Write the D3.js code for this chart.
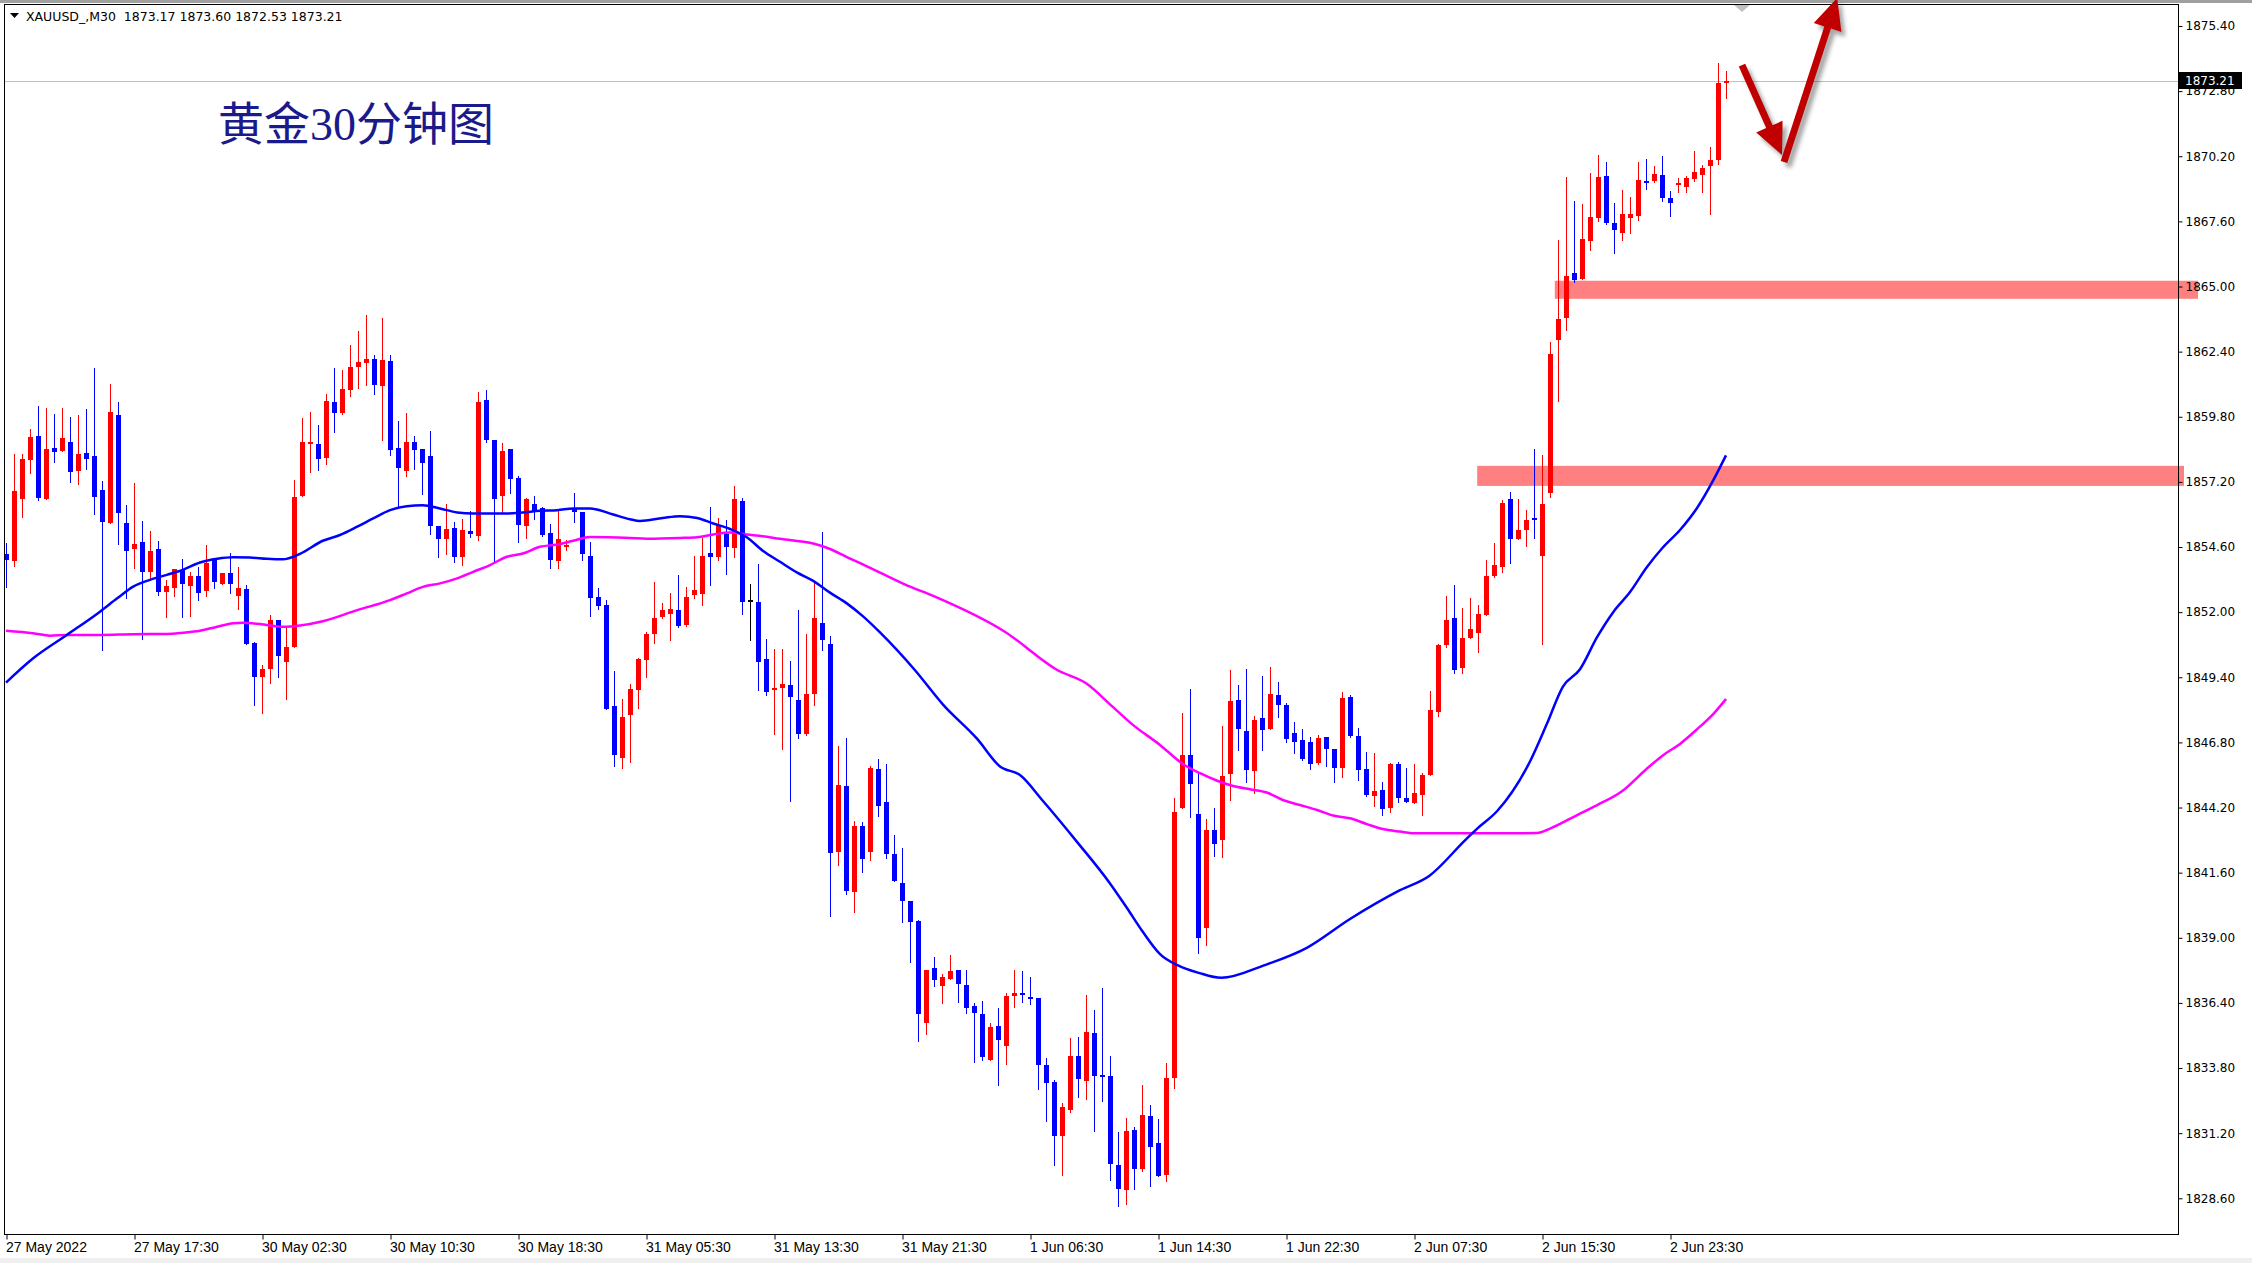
<!DOCTYPE html>
<html>
<head>
<meta charset="utf-8">
<script src="https://d3js.org/d3.v7.min.js"></script>
<title>XAUUSD M30</title>
<style>
  body { margin: 0px; background: #fff; }
</style>
</head>
<body>
<svg width="2252" height="1263"></svg>
<script>
const symbolInfo = 'XAUUSD_,M30  1873.17 1873.60 1872.53 1873.21';
const titleText = '黄金30分钟图';

// OHLC per 30-minute bar, oldest first (bar 0 = 27 May 09:30)
const opens = [1854.32,1854.06,1856.52,1858.09,1859.04,1856.52,1858.56,1858.45,1858.80,1857.65,1858.36,1858.24,1856.88,1855.54,1859.88,1855.56,1854.54,1854.80,1853.62,1854.52,1852.82,1852.98,1853.69,1853.05,1853.45,1852.86,1854.09,1853.14,1853.55,1852.65,1852.93,1850.77,1849.43,1849.75,1851.69,1849.99,1850.62,1856.65,1858.72,1858.71,1858.15,1860.39,1859.95,1860.87,1861.78,1861.94,1862.10,1861.03,1862.02,1858.55,1857.63,1858.79,1858.51,1858.23,1855.44,1854.92,1855.36,1854.20,1855.24,1855.04,1860.47,1858.87,1856.63,1858.51,1857.35,1855.44,1856.31,1856.15,1855.16,1854.04,1854.60,1856.15,1855.99,1854.24,1852.61,1852.29,1848.25,1846.19,1847.88,1848.88,1850.07,1851.11,1851.81,1851.94,1852.08,1851.49,1852.67,1852.74,1854.36,1854.22,1855.10,1854.58,1856.44,1852.49,1852.40,1850.14,1848.88,1848.99,1849.10,1848.49,1847.12,1848.75,1851.56,1850.72,1842.41,1845.05,1840.81,1843.47,1842.41,1845.73,1844.42,1842.34,1841.20,1840.47,1839.67,1835.61,1837.80,1837.06,1837.37,1837.72,1837.11,1836.27,1835.96,1834.14,1835.47,1834.70,1836.66,1836.79,1836.63,1836.60,1833.91,1833.25,1831.07,1832.13,1834.28,1833.30,1835.20,1833.53,1833.47,1829.93,1828.94,1831.32,1829.75,1831.87,1830.81,1829.55,1833.40,1844.20,1846.30,1843.94,1839.40,1843.30,1842.91,1845.54,1848.50,1847.26,1845.66,1847.78,1847.34,1848.69,1848.30,1847.18,1846.90,1846.82,1845.98,1847.02,1846.54,1845.78,1848.61,1847.06,1845.74,1844.66,1844.90,1844.18,1845.94,1844.58,1844.38,1844.70,1845.50,1848.03,1850.69,1851.78,1849.78,1850.97,1851.17,1851.90,1853.43,1853.79,1856.51,1854.94,1855.26,1855.75,1854.26,1856.77,1862.88,1863.76,1865.54,1865.29,1866.83,1867.73,1869.42,1867.53,1867.13,1867.75,1867.83,1869.22,1869.22,1869.46,1868.52,1869.08,1868.96,1869.30,1869.46,1869.83,1870.05,1873.17];
const highs = [1854.78,1858.32,1858.32,1859.32,1860.23,1860.14,1859.92,1860.14,1859.80,1859.88,1860.11,1861.75,1857.23,1861.11,1860.37,1856.28,1857.15,1855.63,1855.24,1854.84,1853.29,1853.71,1854.13,1853.62,1853.79,1854.68,1854.15,1853.55,1854.38,1853.79,1853.09,1850.82,1849.89,1851.89,1851.69,1851.42,1857.28,1859.75,1859.99,1859.47,1860.71,1861.74,1861.66,1862.66,1863.22,1863.86,1862.26,1863.74,1862.26,1859.63,1859.95,1859.03,1858.51,1859.23,1855.44,1856.31,1855.60,1855.72,1856.03,1860.79,1860.87,1858.87,1858.75,1858.51,1857.43,1856.55,1856.63,1856.19,1855.52,1856.03,1854.90,1856.75,1855.99,1854.80,1852.97,1852.49,1849.66,1848.52,1849.14,1850.17,1851.19,1853.19,1852.35,1852.77,1853.49,1853.01,1854.25,1854.96,1856.21,1855.76,1855.68,1857.02,1856.55,1853.12,1853.93,1850.94,1850.53,1850.53,1850.05,1852.08,1851.14,1853.16,1855.19,1851.04,1846.66,1846.98,1843.67,1843.61,1845.85,1846.14,1845.95,1843.10,1842.58,1840.47,1839.71,1837.72,1838.24,1837.55,1838.31,1837.72,1837.72,1836.40,1836.46,1835.61,1836.18,1836.79,1837.72,1837.67,1837.44,1836.60,1834.22,1833.33,1832.39,1834.99,1835.03,1836.73,1836.12,1837.01,1834.28,1831.24,1831.80,1831.45,1833.14,1832.34,1831.78,1834.00,1844.58,1847.98,1848.93,1845.57,1843.74,1844.18,1847.46,1849.69,1849.09,1849.73,1847.86,1849.45,1849.81,1849.21,1848.38,1847.62,1847.34,1847.02,1847.10,1847.02,1846.54,1848.81,1848.69,1847.38,1846.42,1846.38,1845.22,1845.98,1846.02,1845.78,1845.94,1845.58,1848.85,1850.71,1852.64,1853.09,1852.16,1852.56,1852.30,1854.08,1854.78,1856.47,1856.81,1856.51,1856.07,1858.51,1858.26,1862.78,1866.87,1869.38,1868.40,1868.28,1869.53,1870.25,1869.97,1868.32,1868.86,1868.56,1869.97,1870.11,1869.83,1870.21,1868.80,1869.34,1869.40,1870.41,1869.85,1870.57,1873.92,1873.60];
const lows = [1853.02,1853.85,1855.78,1857.57,1856.48,1856.51,1858.01,1858.45,1857.21,1857.13,1857.73,1855.90,1850.49,1855.54,1854.74,1852.58,1853.78,1850.93,1853.29,1852.69,1851.82,1852.65,1851.82,1851.85,1852.49,1852.65,1852.95,1853.14,1852.75,1852.14,1850.72,1848.30,1847.99,1849.19,1849.43,1848.55,1850.62,1856.65,1857.59,1857.67,1857.93,1859.19,1859.91,1860.63,1860.95,1861.07,1860.71,1858.87,1858.27,1856.15,1857.43,1857.71,1856.71,1855.12,1854.20,1854.32,1854.00,1853.88,1855.00,1854.88,1858.79,1854.04,1855.99,1856.75,1854.80,1854.96,1855.72,1855.04,1853.76,1853.76,1854.50,1855.60,1854.08,1851.84,1852.14,1848.15,1845.86,1845.76,1846.03,1848.18,1849.41,1850.75,1851.77,1850.87,1851.39,1851.46,1852.58,1852.30,1853.10,1854.07,1853.54,1854.22,1851.94,1850.87,1848.91,1848.69,1847.12,1846.54,1844.47,1846.96,1847.08,1848.31,1850.50,1839.87,1841.90,1840.74,1840.01,1841.61,1842.12,1843.87,1842.20,1841.28,1839.64,1838.05,1834.86,1835.17,1837.08,1836.41,1837.37,1836.45,1835.98,1834.03,1834.14,1834.14,1833.14,1833.95,1836.22,1836.45,1836.35,1832.97,1831.69,1829.91,1829.55,1832.06,1832.64,1832.57,1831.27,1832.50,1829.32,1828.31,1828.38,1828.99,1829.67,1829.08,1829.51,1829.30,1833.00,1844.20,1843.84,1838.40,1838.70,1842.27,1842.24,1844.50,1846.50,1845.20,1844.80,1846.50,1847.34,1847.82,1846.82,1846.38,1846.10,1845.74,1845.94,1845.86,1845.22,1845.42,1847.02,1845.30,1844.66,1844.26,1843.90,1844.02,1844.42,1844.42,1844.38,1843.90,1845.50,1847.87,1850.61,1849.58,1849.58,1850.97,1850.41,1851.90,1853.39,1853.59,1853.95,1854.94,1854.66,1854.98,1850.71,1856.61,1860.44,1863.26,1865.17,1865.29,1866.44,1867.63,1867.49,1866.32,1866.87,1867.15,1867.67,1868.88,1869.18,1868.42,1867.83,1868.76,1868.76,1869.22,1868.76,1867.91,1869.91,1872.53];
const closes = [1854.09,1856.84,1858.12,1859.00,1856.57,1858.52,1858.41,1858.96,1857.61,1858.32,1858.13,1856.61,1855.58,1859.99,1855.94,1854.46,1854.72,1853.62,1854.45,1852.82,1853.05,1853.71,1853.14,1853.45,1852.78,1853.95,1853.21,1853.55,1853.11,1852.97,1850.72,1849.43,1849.72,1851.69,1850.23,1850.61,1856.60,1858.79,1858.79,1858.11,1860.43,1859.95,1860.91,1861.78,1861.98,1862.10,1861.07,1862.06,1858.47,1857.75,1858.79,1858.47,1857.95,1855.44,1854.92,1855.32,1854.20,1855.28,1855.12,1860.39,1858.87,1856.51,1858.43,1857.31,1855.48,1856.51,1855.99,1855.08,1854.08,1854.92,1854.68,1855.99,1854.32,1852.57,1852.26,1848.15,1846.28,1847.82,1848.94,1850.11,1851.11,1851.77,1852.08,1852.13,1851.46,1852.61,1852.88,1854.25,1854.22,1855.47,1854.62,1856.53,1852.42,1852.49,1849.99,1848.83,1848.98,1849.12,1848.63,1847.15,1848.72,1851.75,1850.88,1842.38,1845.09,1840.85,1843.47,1842.16,1845.79,1844.26,1842.36,1841.28,1840.48,1839.64,1835.97,1837.72,1837.33,1837.44,1837.67,1837.17,1836.19,1836.01,1834.25,1835.43,1834.90,1836.67,1836.79,1836.70,1836.55,1833.93,1833.19,1831.10,1832.23,1834.28,1833.37,1835.24,1833.50,1833.49,1829.95,1828.99,1831.28,1829.75,1831.93,1830.66,1829.51,1833.40,1844.04,1846.30,1845.15,1839.00,1843.30,1842.75,1845.46,1848.45,1847.34,1845.70,1847.70,1847.30,1848.73,1848.30,1846.94,1846.82,1846.14,1845.94,1846.98,1846.54,1845.78,1848.57,1847.06,1845.70,1844.70,1844.86,1844.14,1845.94,1844.58,1844.42,1844.78,1845.50,1848.10,1850.67,1851.68,1849.70,1850.97,1851.33,1851.92,1853.45,1853.89,1856.35,1854.94,1855.28,1855.67,1855.71,1856.31,1862.31,1863.72,1865.40,1865.27,1866.89,1867.77,1869.38,1867.55,1867.27,1867.89,1867.89,1869.24,1869.16,1869.48,1868.54,1868.34,1869.14,1869.34,1869.58,1869.73,1870.07,1873.13,1873.21];

// time axis
const timeTickBars = [0, 16, 32, 48, 64, 80, 96, 112, 128, 144, 160, 176, 192, 208];
const timeTickLabels = ['27 May 2022', '27 May 17:30', '30 May 02:30', '30 May 10:30', '30 May 18:30',
  '31 May 05:30', '31 May 13:30', '31 May 21:30', '1 Jun 06:30', '1 Jun 14:30', '1 Jun 22:30',
  '2 Jun 07:30', '2 Jun 15:30', '2 Jun 23:30'];
// price axis
const priceTicks = [1875.40, 1872.80, 1870.20, 1867.60, 1865.00, 1862.40, 1859.80, 1857.20, 1854.60,
  1852.00, 1849.40, 1846.80, 1844.20, 1841.60, 1839.00, 1836.40, 1833.80, 1831.20, 1828.60];
const lastPrice = 1873.21;

// moving averages (bar position, value)
const maFastBars = [0,3.4,7.6,11.75,13.9,15.9,18,20.1,22.1,24.25,26.4,28.4,30.5,32.6,34.6,36.75,39.6,41.75,43.9,45.9,48,50.1,52.1,54.25,56.4,58.4,60.5,62.6,64.6,66.75,68.9,70.9,73,75.9,78,79.25,82.1,84.25,86.4,88.4,90.5,92.6,94.6,96.75,98.9,100.9,103,105.1,107.1,109.25,113.6,117.1,121.4,124.25,126.75,129.6,133.9,138,140.1,142.1,144.25,146.5,149.1,151.9,157.25,162.6,168,174.25,177.9,182.4,183.9,186.4,190.5,192.6,194.6,196.75,198.9,200.9,203,205.1,207.1,209.25,211.4,213.4,215];
const maFastValues = [1849.19,1850.16,1851.09,1852.02,1852.55,1853.02,1853.29,1853.49,1853.69,1853.98,1854.13,1854.19,1854.18,1854.13,1854.11,1854.33,1854.85,1855.08,1855.41,1855.74,1856.07,1856.23,1856.27,1856.14,1855.98,1855.94,1855.94,1855.94,1855.98,1856.05,1856.07,1856.14,1856.14,1855.90,1855.71,1855.64,1855.76,1855.83,1855.76,1855.54,1855.32,1854.99,1854.45,1854.01,1853.58,1853.25,1852.78,1852.35,1851.84,1851.19,1849.69,1848.32,1846.94,1845.84,1845.50,1844.47,1842.82,1841.17,1840.20,1839.24,1838.35,1837.90,1837.60,1837.40,1837.90,1838.60,1839.75,1840.90,1841.47,1842.90,1843.36,1844.06,1846.04,1847.53,1849.02,1849.72,1851.01,1852.00,1852.80,1853.79,1854.58,1855.28,1856.17,1857.26,1858.26];
const maSlowBars = [0,3.4,5.5,7.6,11.75,15.9,20.1,22.1,24.25,26.4,28.4,29.6,32.6,34.6,36.75,39.6,43.9,48,50.1,52.1,54.25,56.4,58.4,60.5,62.6,64.6,66.75,68.9,70.9,73,78,80.1,84.25,86.4,88.4,90.5,92.6,94.6,96.75,98.9,100.9,103,105.1,107.1,109.25,112.4,115.9,124.9,131.4,135.1,138,140.9,144.25,147.1,149.25,151.4,153.4,155.5,157.6,159.6,161.75,163.9,165.9,168,170.1,172.1,174.25,176.4,180.5,191.4,193,196.75,198.9,202,205.1,207.1,209.25,211.4,213.4,215];
const maSlowValues = [1851.26,1851.16,1851.06,1851.09,1851.09,1851.12,1851.13,1851.18,1851.26,1851.42,1851.56,1851.58,1851.49,1851.42,1851.47,1851.64,1852.08,1852.48,1852.75,1853.01,1853.15,1853.35,1853.61,1853.88,1854.21,1854.34,1854.61,1854.70,1854.85,1855.00,1854.96,1854.93,1854.96,1854.99,1855.10,1855.18,1855.10,1855.03,1854.93,1854.84,1854.74,1854.52,1854.20,1853.91,1853.58,1853.10,1852.65,1851.21,1849.69,1849.14,1848.32,1847.49,1846.70,1845.94,1845.57,1845.27,1845.06,1844.93,1844.80,1844.50,1844.30,1844.10,1843.88,1843.77,1843.54,1843.34,1843.24,1843.17,1843.17,1843.18,1843.36,1843.96,1844.30,1844.85,1845.75,1846.28,1846.74,1847.33,1847.93,1848.53];

// drawn objects: support zones and arrows
const zoneStartBars = [193.6, 183.9];
const zoneEndBars = [274, 272.25];
const zoneHighs = [1865.23, 1857.84];
const zoneLows = [1864.51, 1857.04];
const arrowStarts = [[217, 1873.84], [222.25, 1869.97]];
const arrowTips = [[222, 1870.25], [228.9, 1876.52]];
const shiftBar = 217;

const svg = d3.select('svg');
const W = +svg.attr('width'), H = +svg.attr('height');
const plot = { left: 4.5, top: 4.5, right: 2178.5, bottom: 1234.5 };

const xScale = d3.scaleLinear().domain([0, 215]).range([6, 1726]);
const yScale = d3.scaleLinear().domain([1828.6, 1875.4]).range([1198.3, 26]);

svg.append('rect').attr('width', W).attr('height', H).attr('fill', '#fff');
svg.append('rect').attr('width', W).attr('height', 3).attr('fill', '#a0a0a0');
svg.append('rect').attr('y', 1258).attr('width', W).attr('height', 5).attr('fill', '#f0f0f0');

const defs = svg.append('defs');
defs.append('clipPath').attr('id', 'plotClip').append('rect')
  .attr('x', plot.left).attr('y', plot.top)
  .attr('width', plot.right - plot.left).attr('height', plot.bottom - plot.top);
const blur = defs.append('filter').attr('id', 'shadow')
  .attr('x', '-20%').attr('y', '-20%').attr('width', '140%').attr('height', '140%');
blur.append('feGaussianBlur').attr('stdDeviation', 2);

// zones (extend a little past the price scale, like the terminal does)
const zones = zoneStartBars.map((b, i) => ({ b0: b, b1: zoneEndBars[i], hi: zoneHighs[i], lo: zoneLows[i] }));
svg.append('g').selectAll('rect').data(zones).enter().append('rect')
  .attr('x', d => xScale(d.b0))
  .attr('y', d => yScale(d.hi))
  .attr('width', d => xScale(d.b1) - xScale(d.b0))
  .attr('height', d => yScale(d.lo) - yScale(d.hi))
  .attr('fill', '#ff8080');

const g = svg.append('g').attr('clip-path', 'url(#plotClip)');

// last price line
g.append('line')
  .attr('x1', plot.left).attr('x2', plot.right)
  .attr('y1', Math.round(yScale(lastPrice)) + 0.5).attr('y2', Math.round(yScale(lastPrice)) + 0.5)
  .attr('stroke', '#c0c0c0').attr('stroke-width', 1);

// candles
const bars = opens.map((o, i) => ({ i, o, h: highs[i], l: lows[i], c: closes[i] }));
const candleColor = d => d.c > d.o ? '#ff0000' : (d.c < d.o ? '#0000ff' : '#000000');
const candles = g.selectAll('g.candle').data(bars).enter().append('g').attr('class', 'candle');
candles.append('line')
  .attr('x1', d => Math.round(xScale(d.i)) + 0.5)
  .attr('x2', d => Math.round(xScale(d.i)) + 0.5)
  .attr('y1', d => Math.round(yScale(d.h)))
  .attr('y2', d => Math.round(yScale(d.l)) + 1)
  .attr('stroke', candleColor).attr('stroke-width', 1);
candles.append('rect')
  .attr('x', d => Math.round(xScale(d.i)) - 2)
  .attr('y', d => Math.round(yScale(Math.max(d.o, d.c))))
  .attr('width', 5)
  .attr('height', d => Math.max(2, Math.round(yScale(Math.min(d.o, d.c))) - Math.round(yScale(Math.max(d.o, d.c)))))
  .attr('fill', candleColor);

// moving averages
const maLine = d3.line().x(d => xScale(d[0])).y(d => yScale(d[1])).curve(d3.curveMonotoneX);
g.append('path').datum(maSlowBars.map((b, i) => [b, maSlowValues[i]]))
  .attr('d', maLine).attr('fill', 'none').attr('stroke', '#ff00ff').attr('stroke-width', 2.5);
g.append('path').datum(maFastBars.map((b, i) => [b, maFastValues[i]]))
  .attr('d', maLine).attr('fill', 'none').attr('stroke', '#0000ff').attr('stroke-width', 2.5);

// frame
svg.append('rect')
  .attr('x', plot.left).attr('y', plot.top)
  .attr('width', plot.right - plot.left).attr('height', plot.bottom - plot.top)
  .attr('fill', 'none').attr('stroke', '#000').attr('stroke-width', 1);

// chart shift marker
const sx = Math.round(xScale(shiftBar));
svg.append('path').attr('d', `M${sx - 8},5 L${sx + 8},5 L${sx},12 Z`).attr('fill', '#c0c0c0');

// price axis
const yAxis = d3.axisRight(yScale).tickValues(priceTicks).tickFormat(d3.format('.2f')).tickSize(4).tickPadding(3);
const yAxisG = svg.append('g').attr('transform', `translate(${plot.right},0)`).call(yAxis);
yAxisG.select('.domain').remove();
yAxisG.selectAll('text').attr('font-family', '"DejaVu Sans", Verdana, sans-serif').attr('font-size', 12).attr('fill', '#000');
yAxisG.selectAll('line').attr('stroke', '#000');

// last price tag
const ly = yScale(lastPrice);
svg.append('rect').attr('x', 2179).attr('y', Math.round(ly) - 9).attr('width', 63).attr('height', 17).attr('fill', '#000');
svg.append('text').attr('x', 2185).attr('y', ly).attr('dy', '0.35em')
  .attr('font-family', '"DejaVu Sans", Verdana, sans-serif').attr('font-size', 12).attr('fill', '#fff')
  .text(d3.format('.2f')(lastPrice));

// time axis
const xAxis = d3.axisBottom(xScale).tickValues(timeTickBars)
  .tickFormat((d, i) => timeTickLabels[i]).tickSize(5).tickPadding(3);
const xAxisG = svg.append('g').attr('transform', `translate(0.5,${plot.bottom})`).call(xAxis);
xAxisG.select('.domain').remove();
xAxisG.selectAll('text').attr('text-anchor', 'start').attr('x', -1)
  .attr('font-family', '"Liberation Sans", Arial, sans-serif').attr('font-size', 14).attr('fill', '#000');
xAxisG.selectAll('line').attr('stroke', '#000');

// header
svg.append('path').attr('d', 'M10,13 L19,13 L14.5,18 Z').attr('fill', '#000');
svg.append('text').attr('x', 26).attr('y', 21)
  .attr('font-family', '"DejaVu Sans", Tahoma, sans-serif').attr('font-size', 12.5).attr('fill', '#000')
  .attr('xml:space', 'preserve').style('white-space', 'pre')
  .text(symbolInfo);

// title
svg.append('text').attr('x', 218).attr('y', 140)
  .attr('font-family', '"Liberation Serif", "Noto Sans CJK SC", serif').attr('font-size', 46)
  .attr('fill', '#1a1a8a')
  .text(titleText);

// arrows
const arrowShape = (s, t) => {
  const x0 = xScale(s[0]), y0 = yScale(s[1]), x1 = xScale(t[0]), y1 = yScale(t[1]);
  const len = Math.hypot(x1 - x0, y1 - y0), ux = (x1 - x0) / len, uy = (y1 - y0) / len;
  const nx = -uy, ny = ux, w = 3.5, hw = 14.5, hl = 31;
  const bx = x1 - ux * hl, by = y1 - uy * hl;
  const pts = [[x0 + nx * w, y0 + ny * w], [bx + nx * w, by + ny * w], [bx + nx * hw, by + ny * hw], [x1, y1],
    [bx - nx * hw, by - ny * hw], [bx - nx * w, by - ny * w], [x0 - nx * w, y0 - ny * w]];
  return 'M' + pts.map(p => p[0].toFixed(1) + ',' + p[1].toFixed(1)).join('L') + 'Z';
};
const arrows = arrowStarts.map((s, i) => arrowShape(s, arrowTips[i]));
svg.append('g').selectAll('path').data(arrows).enter().append('path')
  .attr('d', d => d).attr('transform', 'translate(4,5)')
  .attr('fill', 'rgba(0,0,0,0.35)').attr('filter', 'url(#shadow)');
svg.append('g').selectAll('path').data(arrows).enter().append('path')
  .attr('d', d => d).attr('fill', '#c00000');
</script>
</body>
</html>
